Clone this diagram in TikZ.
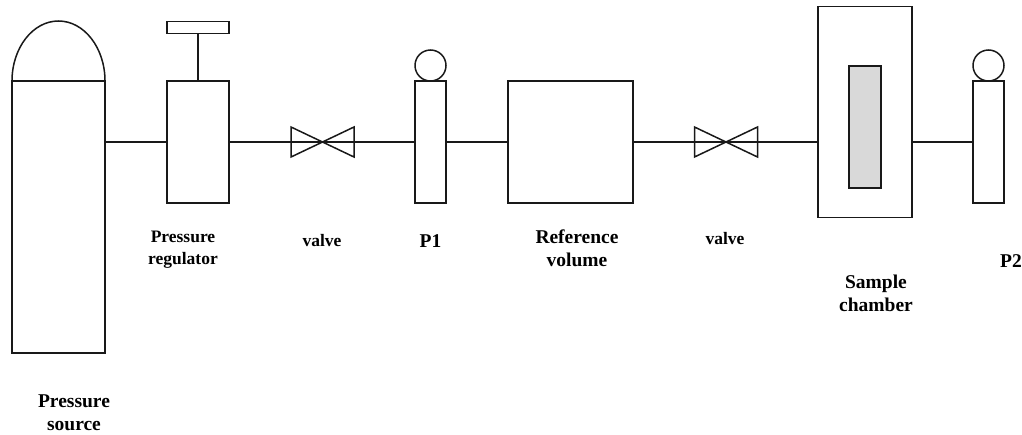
\documentclass[tikz,border=0pt]{standalone}
\usepackage{fontspec}
\setmainfont{Liberation Serif}
\tikzset{
  part/.style={draw=black!90,line width=1.5pt,inner sep=0pt,outer sep=0pt,anchor=north west},
  gauge/.style={draw=black!90,line width=1.5pt,circle,inner sep=0pt,outer sep=0pt,minimum size=31pt},
  pipe/.style={draw=black!90,line width=1.5pt},
  lab/.style={font=\fontsize{19.5pt}{23pt}\selectfont\bfseries,align=center,inner sep=0pt,text=black},
  smalllab/.style={font=\fontsize{17.5pt}{22pt}\selectfont\bfseries,align=center,inner sep=0pt,text=black}
}
\newcommand{\valveshape}[1]{\draw[pipe,line join=miter] (#1)++(-31.5,-15) -- ++(63,30) -- ++(0,-30) -- ++(-63,30) -- cycle;}
\begin{document}
\begin{tikzpicture}[x=1pt,y=-1pt]
\useasboundingbox (0,0) rectangle (1022,434);
% tank
\node[part,minimum width=93pt,minimum height=272pt] (tank) at (12,81) {};
\draw[pipe] (tank.north west) arc[start angle=180,end angle=0,x radius=46.5pt,y radius=60pt];
% regulator
\node[part,minimum width=62pt,minimum height=122pt] (reg) at (167,81) {};
\node[part,minimum width=62pt,minimum height=12pt] (knob) at (167,21.5) {};
\draw[pipe] (knob.south) -- (reg.north);
% valves
\coordinate (v1) at (322.5,142);
\coordinate (v2) at (726,142);
\valveshape{v1}
\valveshape{v2}
% P1
\node[part,minimum width=31pt,minimum height=122pt] (p1) at (415,81) {};
\node[gauge,anchor=south] (g1) at (p1.north) {};
% reference volume
\node[part,minimum width=125pt,minimum height=122pt] (ref) at (508,81) {};
% chamber
\node[part,minimum width=94pt,minimum height=211pt] (chamber) at (818.2,6.6) {};
\node[part,fill=black!15,minimum width=32pt,minimum height=122pt] (sample) at (849,66) {};
% P2
\node[part,minimum width=31pt,minimum height=122pt] (p2) at (973,81) {};
\node[gauge,anchor=south] (g2) at (p2.north) {};
% pipes
\draw[pipe] (reg.west) -- (reg.west -| tank.east);
\draw[pipe] (reg.east) -- (v1);
\draw[pipe] (v1) -- (p1.west);
\draw[pipe] (p1.east) -- (ref.west);
\draw[pipe] (ref.east) -- (v2);
\draw[pipe] (v2) -- (v2 -| chamber.west);
\draw[pipe] (v2 -| chamber.east) -- (p2.west);
% labels
\node[lab] (l1) at (74,413) {Pressure\\source};
\node[smalllab] (l2) at (183,250) {Pressure\\regulator};
\node[smalllab] (l3) at (322,241) {valve};
\node[lab] (l4) at (430.5,241) {P1};
\node[lab] (l5) at (577,248) {Reference\\volume};
\node[smalllab] (l6) at (725,239) {valve};
\node[lab] (l7) at (876,293) {Sample\\chamber};
\node[lab] (l8) at (1011,261) {P2};
\end{tikzpicture}
\end{document}
